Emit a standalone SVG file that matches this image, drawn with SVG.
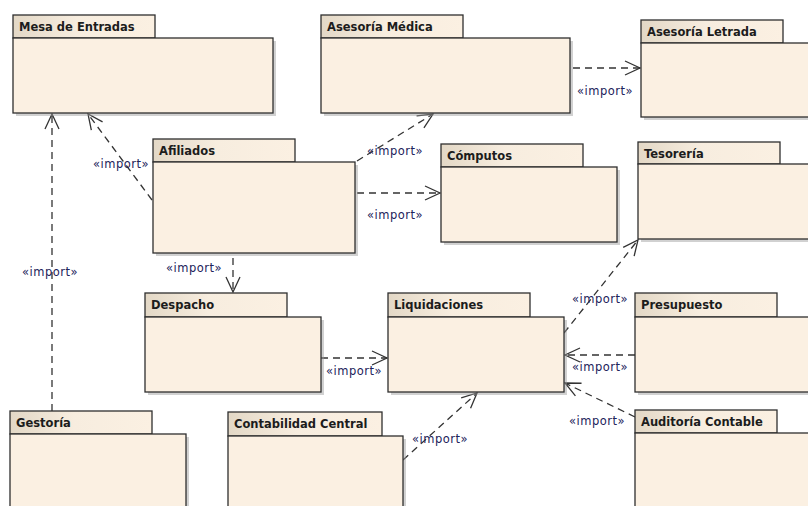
<svg xmlns="http://www.w3.org/2000/svg" width="808" height="506" viewBox="0 0 808 506">
<style>
.body{fill:#FBF0E2;stroke:#2E2E2E;stroke-width:1.3}
.tab{fill:url(#tabg);stroke:#2E2E2E;stroke-width:1.3}
.sh{fill:#9a9a9a;opacity:0.45}
.name{font-family:"DejaVu Sans",Verdana,sans-serif;font-weight:bold;font-size:11.5px;fill:#1c1c1c}
.lbl{font-family:"DejaVu Sans",Verdana,sans-serif;font-size:11.5px;fill:#22225a;letter-spacing:0.5px}
.dep{fill:none;stroke:#333;stroke-width:1.3;stroke-dasharray:7 5;marker-end:url(#open)}
</style>
<defs>
<linearGradient id="tabg" x1="0" y1="0" x2="1" y2="0">
<stop offset="0" stop-color="#E3D8C6"/>
<stop offset="0.45" stop-color="#F7EDDF"/>
<stop offset="1" stop-color="#FBF0E2"/>
</linearGradient>
<marker id="open" markerUnits="userSpaceOnUse" markerWidth="20" markerHeight="20" viewBox="-16 -10 20 20" refX="0" refY="0" orient="auto">
<path d="M-15,-7 L0,0 L-15,7" fill="none" stroke="#333" stroke-width="1.3" stroke-dasharray="none"/>
</marker>
</defs>
<rect width="808" height="506" fill="#FFFFFF"/>

<g id="connectors">
<line class="dep" x1="52" y1="411" x2="52" y2="114"/>
<line class="dep" x1="152" y1="200" x2="88" y2="114"/>
<line class="dep" x1="357" y1="161" x2="433" y2="114"/>
<line class="dep" x1="357" y1="193" x2="440" y2="193"/>
<line class="dep" x1="233" y1="258" x2="233" y2="292"/>
<line class="dep" x1="573" y1="68" x2="640" y2="68"/>
<line class="dep" x1="321" y1="358" x2="387" y2="358"/>
<line class="dep" x1="564" y1="333" x2="638" y2="240"/>
<line class="dep" x1="635" y1="355" x2="565" y2="355"/>
<line class="dep" x1="635" y1="417" x2="565" y2="383"/>
<line class="dep" x1="403" y1="460" x2="477" y2="393"/>
<text class="lbl" x="22" y="276">«import»</text>
<text class="lbl" x="93" y="168">«import»</text>
<text class="lbl" x="367" y="155">«import»</text>
<text class="lbl" x="367" y="219">«import»</text>
<text class="lbl" x="166" y="272">«import»</text>
<text class="lbl" x="577" y="95">«import»</text>
<text class="lbl" x="326" y="375">«import»</text>
<text class="lbl" x="572" y="303">«import»</text>
<text class="lbl" x="572" y="371">«import»</text>
<text class="lbl" x="569" y="425">«import»</text>
<text class="lbl" x="412" y="443">«import»</text>
</g>

<g id="mesa">
<rect class="sh" x="16" y="41" width="260" height="75"/>
<rect class="tab" x="13" y="15" width="142" height="23"/>
<rect class="body" x="13" y="38" width="260" height="75"/>
<text class="name" x="19" y="31">Mesa de Entradas</text>
</g>

<g id="medica">
<rect class="sh" x="324" y="41" width="249" height="75"/>
<rect class="tab" x="321" y="15" width="142" height="23"/>
<rect class="body" x="321" y="38" width="249" height="75"/>
<text class="name" x="327" y="31">Asesoría Médica</text>
</g>

<g id="letrada">
<rect class="sh" x="644" y="46" width="200" height="74"/>
<rect class="tab" x="641" y="20" width="142" height="23"/>
<rect class="body" x="641" y="43" width="200" height="74"/>
<text class="name" x="647" y="36">Asesoría Letrada</text>
</g>

<g id="afiliados">
<rect class="sh" x="156" y="165" width="202" height="91"/>
<rect class="tab" x="153" y="139" width="142" height="23"/>
<rect class="body" x="153" y="162" width="202" height="91"/>
<text class="name" x="159" y="155">Afiliados</text>
</g>

<g id="computos">
<rect class="sh" x="444" y="170" width="176" height="75"/>
<rect class="tab" x="441" y="144" width="142" height="23"/>
<rect class="body" x="441" y="167" width="176" height="75"/>
<text class="name" x="447" y="160">Cómputos</text>
</g>

<g id="tesoreria">
<rect class="sh" x="641" y="167" width="200" height="75"/>
<rect class="tab" x="638" y="142" width="142" height="22"/>
<rect class="body" x="638" y="164" width="200" height="75"/>
<text class="name" x="644" y="158">Tesorería</text>
</g>

<g id="despacho">
<rect class="sh" x="148" y="320" width="176" height="75"/>
<rect class="tab" x="145" y="293" width="142" height="24"/>
<rect class="body" x="145" y="317" width="176" height="75"/>
<text class="name" x="151" y="309">Despacho</text>
</g>

<g id="liquidaciones">
<rect class="sh" x="391" y="320" width="176" height="75"/>
<rect class="tab" x="388" y="293" width="142" height="24"/>
<rect class="body" x="388" y="317" width="176" height="75"/>
<text class="name" x="394" y="309">Liquidaciones</text>
</g>

<g id="presupuesto">
<rect class="sh" x="638" y="320" width="200" height="75"/>
<rect class="tab" x="635" y="293" width="142" height="24"/>
<rect class="body" x="635" y="317" width="200" height="75"/>
<text class="name" x="641" y="309">Presupuesto</text>
</g>

<g id="gestoria">
<rect class="sh" x="13" y="437" width="176" height="100"/>
<rect class="tab" x="10" y="411" width="142" height="23"/>
<rect class="body" x="10" y="434" width="176" height="100"/>
<text class="name" x="16" y="427">Gestoría</text>
</g>

<g id="contabilidad">
<rect class="sh" x="231" y="439" width="175" height="100"/>
<rect class="tab" x="228" y="412" width="154" height="24"/>
<rect class="body" x="228" y="436" width="175" height="100"/>
<text class="name" x="234" y="428">Contabilidad Central</text>
</g>

<g id="auditoria">
<rect class="sh" x="638" y="436" width="200" height="100"/>
<rect class="tab" x="635" y="410" width="142" height="23"/>
<rect class="body" x="635" y="433" width="200" height="100"/>
<text class="name" x="641" y="426">Auditoría Contable</text>
</g>
</svg>
